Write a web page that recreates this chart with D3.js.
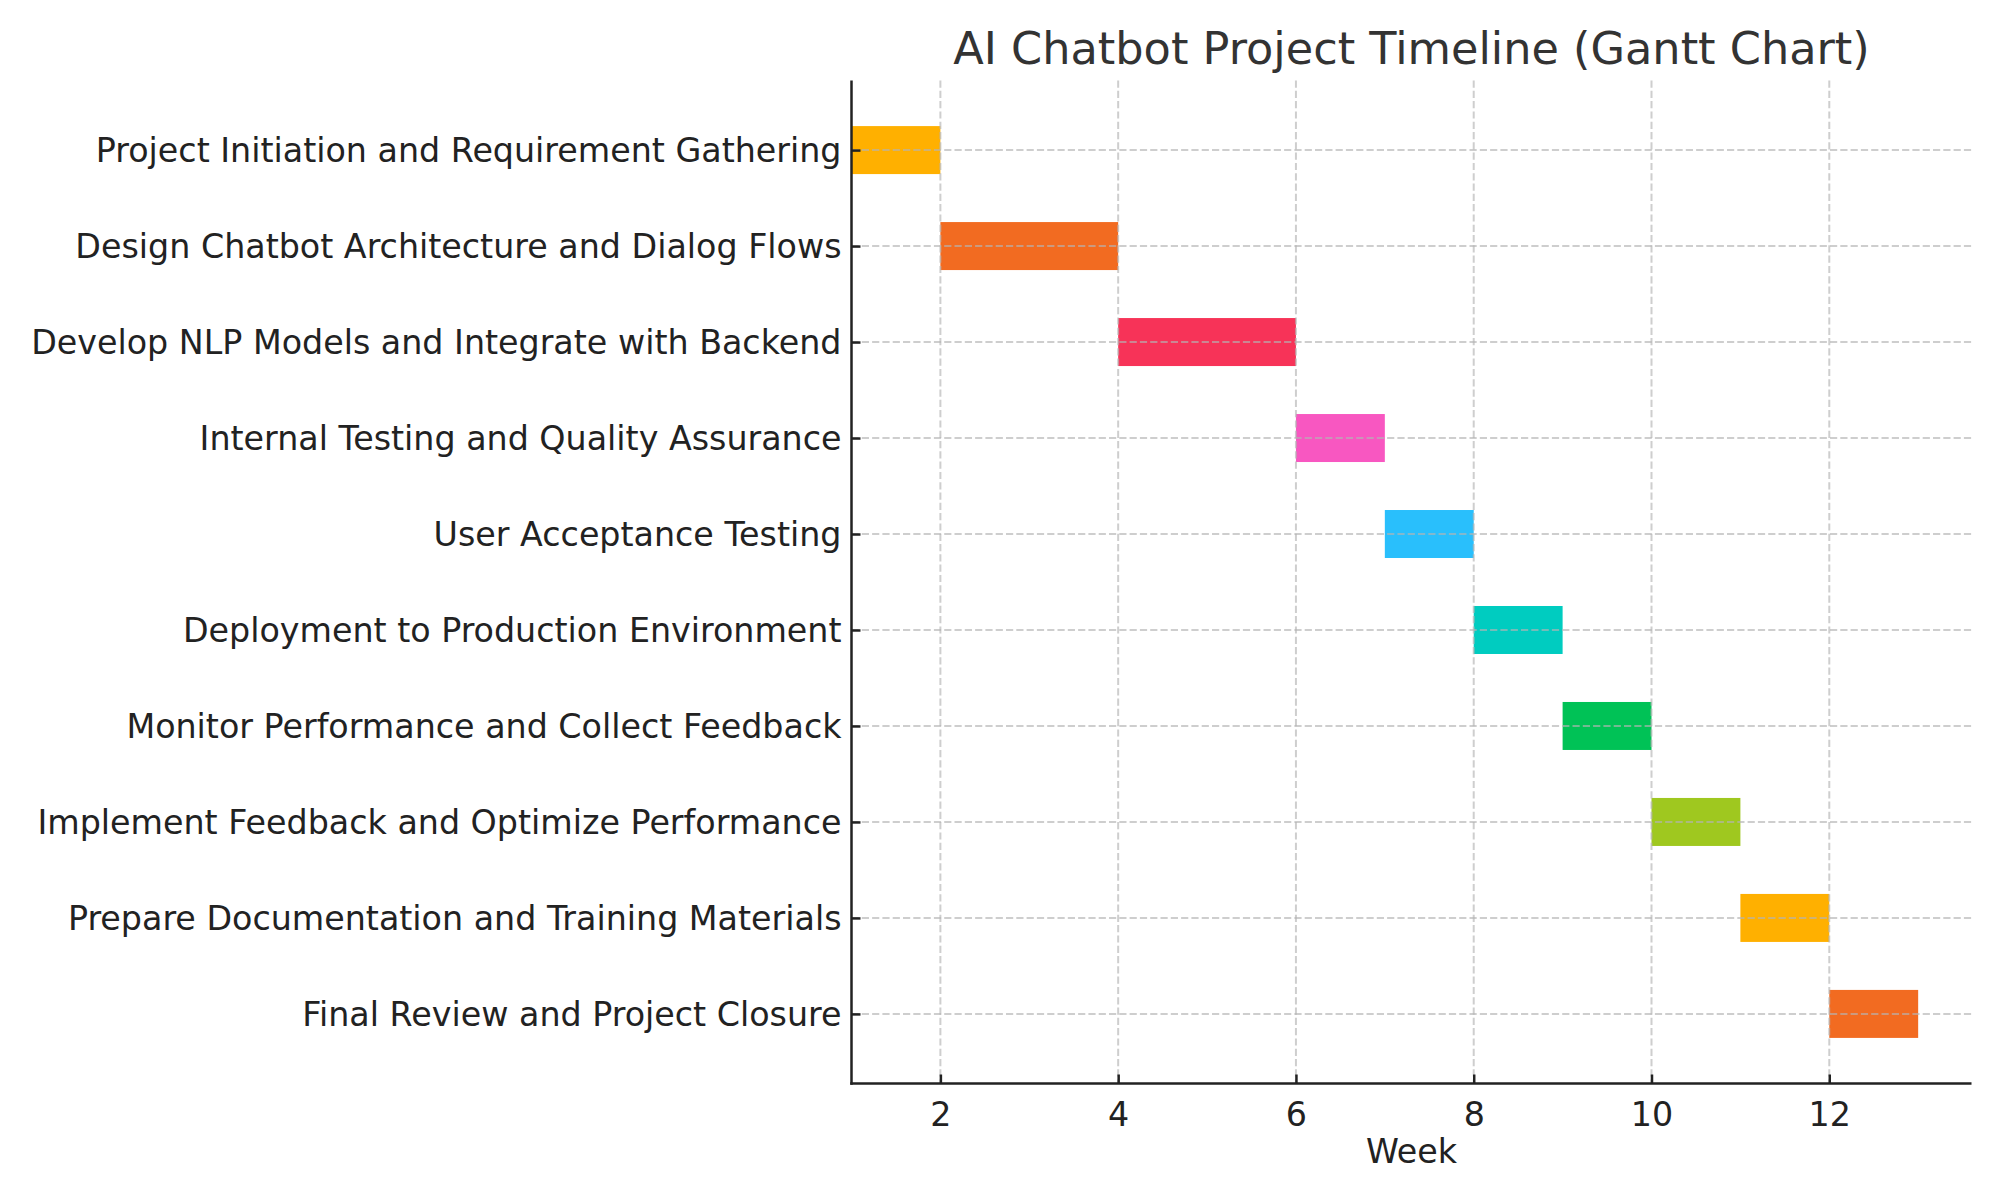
<!DOCTYPE html>
<html>
<head>
<meta charset="utf-8">
<script src="https://cdn.jsdelivr.net/npm/d3@7"></script>
<style>
  html, body { margin: 0; padding: 0; background: #fff; }
  svg { display: block; font-family: "DejaVu Sans", sans-serif; }
</style>
</head>
<body>
<svg id="chart" width="2000" height="1200"></svg>
<script>
const tasks = [
  "Project Initiation and Requirement Gathering",
  "Design Chatbot Architecture and Dialog Flows",
  "Develop NLP Models and Integrate with Backend",
  "Internal Testing and Quality Assurance",
  "User Acceptance Testing",
  "Deployment to Production Environment",
  "Monitor Performance and Collect Feedback",
  "Implement Feedback and Optimize Performance",
  "Prepare Documentation and Training Materials",
  "Final Review and Project Closure"
];
const startWeeks = [1, 2, 4, 6, 7, 8, 9, 10, 11, 12];
const durations = [1, 2, 2, 1, 1, 1, 1, 1, 1, 1];
const barColors = ["#FFB000", "#F26B21", "#F73358", "#F857C1", "#29BFFC",
                   "#00CCC0", "#00C256", "#9FC81F", "#FFB000", "#F26B21"];
const xTicks = [2, 4, 6, 8, 10, 12];
const titleText = "AI Chatbot Project Timeline (Gantt Chart)";
const xLabel = "Week";

const svg = d3.select("#chart");
const L = 851.5, R = 1971.5, T = 80.5, B = 1083.5;

const x = d3.scaleLinear().domain([1, 13.6]).range([L, R]);
const y = d3.scaleLinear().domain([-0.725, tasks.length - 1 + 0.725]).range([T, B]);
const barH = y(0.5) - y(0);

const rows = tasks.map((t, i) => ({ task: t, i, start: startWeeks[i], dur: durations[i], color: barColors[i] }));

// bars
svg.append("g").selectAll("rect").data(rows).join("rect")
  .attr("x", d => x(d.start))
  .attr("y", d => y(d.i) - barH / 2)
  .attr("width", d => x(d.start + d.dur) - x(d.start))
  .attr("height", barH)
  .attr("fill", d => d.color);

// grid (drawn above bars)
const grid = svg.append("g")
  .attr("stroke", "#b4b4b4").attr("stroke-opacity", 0.65)
  .attr("stroke-width", 2).attr("stroke-dasharray", "7.2,3.1");
grid.selectAll("line.v").data(xTicks).join("line").attr("class", "v")
  .attr("x1", d => x(d)).attr("x2", d => x(d)).attr("y1", T).attr("y2", B);
grid.selectAll("line.h").data(rows).join("line").attr("class", "h")
  .attr("x1", L).attr("x2", R).attr("y1", d => y(d.i)).attr("y2", d => y(d.i));

// x axis
const xAxis = d3.axisBottom(x).tickValues(xTicks).tickSize(-9).tickPadding(19).tickFormat(d3.format("d"));
const gx = svg.append("g").attr("transform", `translate(0,${B})`).call(xAxis);
gx.select(".domain").remove();
gx.selectAll(".tick line").attr("stroke", "#222").attr("stroke-width", 2.5);
gx.selectAll(".tick text").attr("fill", "#222").attr("font-size", "33.3px")
  .attr("font-family", "DejaVu Sans");

// y axis
const yAxis = d3.axisLeft(y).tickValues(rows.map(d => d.i)).tickSize(-9).tickPadding(10)
  .tickFormat(i => tasks[i]);
const gy = svg.append("g").attr("transform", `translate(${L},0)`).call(yAxis);
gy.select(".domain").remove();
gy.selectAll(".tick line").attr("stroke", "#222").attr("stroke-width", 2.5);
gy.selectAll(".tick text").attr("fill", "#222").attr("font-size", "33.3px")
  .attr("font-family", "DejaVu Sans").attr("dy", "0.34em");

// spines
svg.append("line").attr("x1", L).attr("x2", L).attr("y1", T).attr("y2", B + 1.25)
  .attr("stroke", "#222").attr("stroke-width", 2.5);
svg.append("line").attr("x1", L - 1.25).attr("x2", R).attr("y1", B).attr("y2", B)
  .attr("stroke", "#222").attr("stroke-width", 2.5);

// x label
svg.append("text").attr("x", (L + R) / 2).attr("y", 1163)
  .attr("text-anchor", "middle").attr("font-size", "33.3px").attr("fill", "#222")
  .text(xLabel);

// title
svg.append("text").attr("x", (L + R) / 2).attr("y", 63.5)
  .attr("text-anchor", "middle").attr("font-size", "44.6px").attr("fill", "#333")
  .text(titleText);
</script>
</body>
</html>
